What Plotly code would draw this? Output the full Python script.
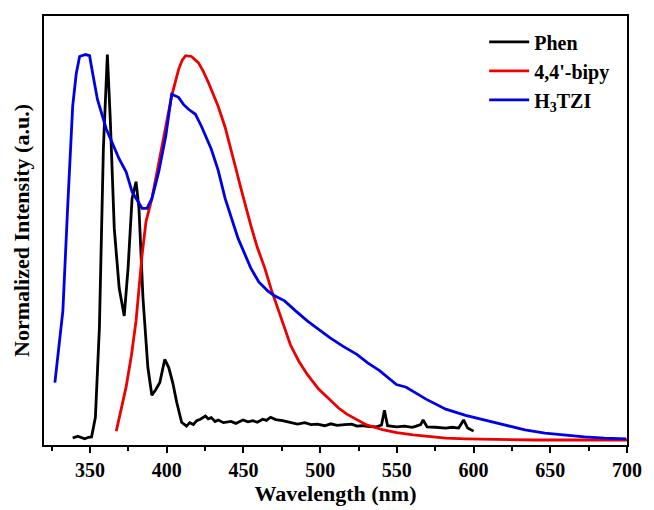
import plotly.graph_objects as go

# Phen
phen_wl = [338.7, 342.0, 346.5, 349.0, 351.0, 353.5, 356.1, 358.7, 361.3, 363.2, 365.8, 369.0, 372.3,
           374.8, 377.4, 380.0, 381.9, 384.5, 387.7, 390.3, 392.9, 395.5, 398.7, 401.3, 403.9, 406.5,
           409.7, 412.9, 415.0, 417.4, 419.5, 421.9, 425.2, 427.0, 429.0, 431.5, 433.5, 437.0, 441.9,
           445.0, 449.7, 453.0, 456.1, 459.0, 462.6, 465.0, 467.7, 471.0, 475.5, 480.0, 485.2, 490.0,
           494.0, 498.1, 503.0, 507.0, 511.0, 516.0, 520.6, 524.0, 527.1, 532.0, 536.8, 540.0, 541.9,
           543.9, 549.7, 555.0, 560.0, 562.6, 565.5, 567.1, 569.7, 575.0, 581.9, 586.0, 590.3, 593.5,
           596.1, 600.0]
phen_int = [0.005, 0.010, 0.003, 0.007, 0.008, 0.059, 0.291, 0.755, 1.000, 0.832, 0.549, 0.394, 0.322,
            0.446, 0.626, 0.670, 0.601, 0.369, 0.188, 0.116, 0.131, 0.149, 0.209, 0.188, 0.149, 0.098,
            0.046, 0.036, 0.045, 0.040, 0.050, 0.054, 0.062, 0.055, 0.058, 0.048, 0.052, 0.045, 0.048,
            0.043, 0.052, 0.047, 0.050, 0.046, 0.054, 0.051, 0.059, 0.053, 0.050, 0.046, 0.041, 0.045,
            0.040, 0.041, 0.037, 0.042, 0.038, 0.040, 0.041, 0.036, 0.037, 0.035, 0.034, 0.039, 0.077,
            0.037, 0.034, 0.036, 0.033, 0.036, 0.040, 0.052, 0.034, 0.033, 0.031, 0.033, 0.031, 0.052,
            0.031, 0.023]

# 4,4'-bipy
bipy_wl = [367.1, 370.0, 373.5, 377.0, 380.0, 383.9, 386.5, 390.3, 393.5, 396.8, 400.0, 403.2, 407.7,
           410.0, 412.3, 416.1, 420.6, 424.0, 427.1, 430.0, 433.5, 438.0, 441.9, 445.0, 448.4, 451.5,
           454.8, 459.0, 463.9, 468.0, 472.3, 476.5, 480.6, 486.0, 491.6, 499.0, 506.5, 512.0, 517.4,
           523.9, 530.3, 541.3, 550.0, 560.6, 570.0, 581.9, 595.0, 614.2, 640.0, 670.0, 700.0]
bipy_int = [0.023, 0.075, 0.137, 0.220, 0.309, 0.479, 0.567, 0.626, 0.690, 0.755, 0.825, 0.892, 0.961,
            0.985, 0.997, 0.995, 0.979, 0.955, 0.928, 0.900, 0.866, 0.812, 0.755, 0.705, 0.652, 0.605,
            0.557, 0.500, 0.446, 0.392, 0.343, 0.293, 0.247, 0.205, 0.170, 0.132, 0.103, 0.083, 0.067,
            0.052, 0.039, 0.026, 0.019, 0.013, 0.009, 0.005, 0.003, 0.001, 0.0, 0.0, 0.0]

# H3TZI
tzi_wl = [327.1, 332.3, 335.5, 338.7, 341.0, 343.2, 347.1, 349.7, 351.6, 354.8, 360.6, 365.0, 369.0,
          373.5, 377.4, 383.9, 387.1, 390.3, 394.8, 399.4, 403.2, 407.7, 411.0, 414.2, 418.7, 422.6,
          429.0, 433.5, 438.1, 446.5, 454.8, 460.0, 465.8, 470.0, 476.8, 484.0, 491.6, 499.0, 506.5,
          515.0, 523.9, 531.0, 538.7, 549.7, 556.1, 569.0, 581.9, 594.8, 607.7, 620.6, 633.5, 646.5,
          659.4, 672.3, 685.2, 699.4]
tzi_int = [0.149, 0.335, 0.610, 0.866, 0.950, 0.995, 1.000, 0.997, 0.954, 0.884, 0.807, 0.765, 0.729,
           0.696, 0.644, 0.601, 0.601, 0.626, 0.696, 0.789, 0.897, 0.889, 0.870, 0.858, 0.845, 0.814,
           0.755, 0.700, 0.626, 0.523, 0.446, 0.410, 0.387, 0.375, 0.361, 0.335, 0.309, 0.287, 0.265,
           0.243, 0.222, 0.200, 0.180, 0.144, 0.137, 0.106, 0.080, 0.064, 0.052, 0.039, 0.026, 0.018,
           0.013, 0.008, 0.005, 0.003]

x_ticks = [350, 400, 450, 500, 550, 600, 650, 700]

font_family = "Liberation Serif"

fig = go.Figure()
fig.add_trace(go.Scatter(x=phen_wl, y=phen_int, mode="lines", name="<b>Phen</b>",
                         line=dict(color="black", width=2.8)))
fig.add_trace(go.Scatter(x=bipy_wl, y=bipy_int, mode="lines", name="<b>4,4'-bipy</b>",
                         line=dict(color="#ee0000", width=2.8)))
fig.add_trace(go.Scatter(x=tzi_wl, y=tzi_int, mode="lines", name="<b>H<sub>3</sub>TZI</b>",
                         line=dict(color="#0000e6", width=2.8)))

fig.update_layout(
    width=654, height=510,
    margin=dict(l=44, r=21, t=16, b=62),
    paper_bgcolor="white", plot_bgcolor="white",
    font=dict(family=font_family, color="black", size=20),
    showlegend=True,
    legend=dict(x=0.755, y=0.985, xanchor="left", yanchor="top",
                bgcolor="rgba(0,0,0,0)", font=dict(size=20, family=font_family),
                tracegroupgap=0, itemwidth=40),
    xaxis=dict(range=[320, 700], tickvals=x_ticks,
               ticktext=[f"<b>{v}</b>" for v in x_ticks],
               showline=True, linecolor="black", linewidth=2, mirror=True,
               ticks="outside", ticklen=6, tickwidth=2, tickcolor="black",
               minor=dict(dtick=25, tick0=0, ticks="outside", ticklen=4, tickwidth=2, tickcolor="black"),
               showgrid=False, zeroline=False,
               tickfont=dict(size=20, family=font_family),
               title=dict(text="<b>Wavelength (nm)</b>", font=dict(size=22, family=font_family), standoff=2)),
    yaxis=dict(range=[-0.013, 1.10], showticklabels=False, ticks="",
               showline=True, linecolor="black", linewidth=2, mirror=True,
               showgrid=False, zeroline=False,
               title=dict(text="<b>Normalized Intensity (a.u.)</b>", font=dict(size=22, family=font_family), standoff=6)),
)

fig.write_html("out.html")
